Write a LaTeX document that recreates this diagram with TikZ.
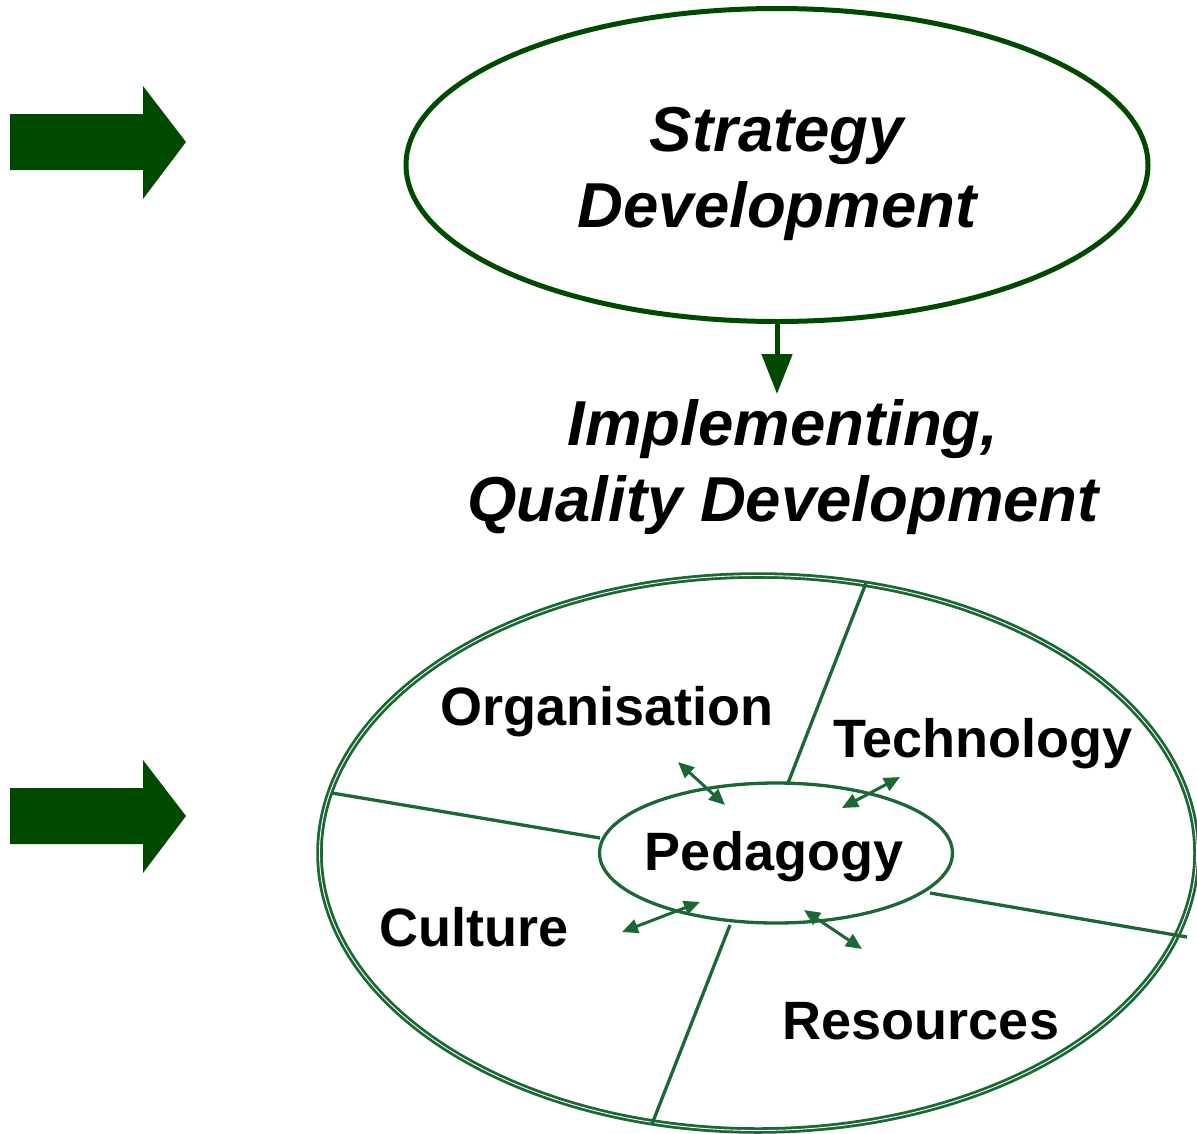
\documentclass[tikz,border=0pt]{standalone}
\usepackage{fontspec}
\setmainfont{Liberation Sans}
\usetikzlibrary{shapes.geometric,arrows.meta}
\definecolor{dkgreen}{HTML}{004A00}
\definecolor{lngreen}{HTML}{1B6835}
\tikzset{
  bigarrow/.style={fill=dkgreen, draw=none},
  title/.style={font=\fontsize{63.5}{76}\selectfont\bfseries\itshape, align=center},
  label/.style={font=\fontsize{54}{60}\selectfont\bfseries},
  divline/.style={draw=lngreen, line width=3.3pt},
  dbl/.style={draw=lngreen, line width=3pt, {Triangle[length=16pt,width=14pt]}-{Triangle[length=16pt,width=14pt]}},
}
\begin{document}
\begin{tikzpicture}[x=1pt,y=-1pt]
\useasboundingbox (0,0) rectangle (1197,1133);
% big arrows
\foreach \yy/\nm in {142/arrA, 816/arrB}{
  \fill[bigarrow] (10,\yy-28) -- (143,\yy-28) -- (143,\yy-56) -- (186,\yy) -- (143,\yy+57) -- (143,\yy+28) -- (10,\yy+28) -- cycle;
}
% strategy ellipse
\node[ellipse, draw=dkgreen, line width=5pt, minimum width=742pt, minimum height=313pt] (strat) at (777,165) {};
\node[title] (strattxt) at (777,174) {Strategy\\Development};
\node[title] (impl) at (783,467) {Implementing,\\Quality Development};
\draw[draw=dkgreen, line width=5pt, -{Triangle[length=40pt,width=30pt]}] (strat.south) -- ++(0,70) coordinate (atip);
% outer ellipse
\node[ellipse, draw=lngreen, line width=2.8pt, double=white, double distance=0.9pt, minimum width=877pt, minimum height=555pt] (outer) at (758,853) {};
% inner ellipse
\node[ellipse, draw=lngreen, line width=3.3pt, minimum width=353pt, minimum height=140pt] (ped) at (776,853) {};
\node[label] (pedtxt) at (774,857) {Pedagogy};
% dividing lines
\coordinate (l1a) at (788,783); \coordinate (l1b) at (866,583);
\coordinate (l2a) at (600,838); \coordinate (l2b) at (332,793);
\coordinate (l3a) at (930,893); \coordinate (l3b) at (1187,937);
\coordinate (l4a) at (730,925); \coordinate (l4b) at (652,1124);
\draw[divline] (l1a) -- (l1b);
\draw[divline] (l2a) -- (l2b);
\draw[divline] (l3a) -- (l3b);
\draw[divline] (l4a) -- (l4b);
% labels
\node[label] (org) at (607,712) {Organisation};
\node[label] (tech) at (983,744) {Technology};
\node[label] (cult) at (474,927) {Culture};
\node[label] (res) at (921,1021) {Resources};
% double arrows
\coordinate (a1a) at (678,762); \coordinate (a1b) at (725,805);
\coordinate (a2a) at (900,777); \coordinate (a2b) at (842,808);
\coordinate (a3a) at (622,932); \coordinate (a3b) at (700,902);
\coordinate (a4a) at (804,910); \coordinate (a4b) at (862,949);
\draw[dbl] (a1a) -- (a1b);
\draw[dbl] (a2a) -- (a2b);
\draw[dbl] (a3a) -- (a3b);
\draw[dbl] (a4a) -- (a4b);
\end{tikzpicture}
\end{document}
